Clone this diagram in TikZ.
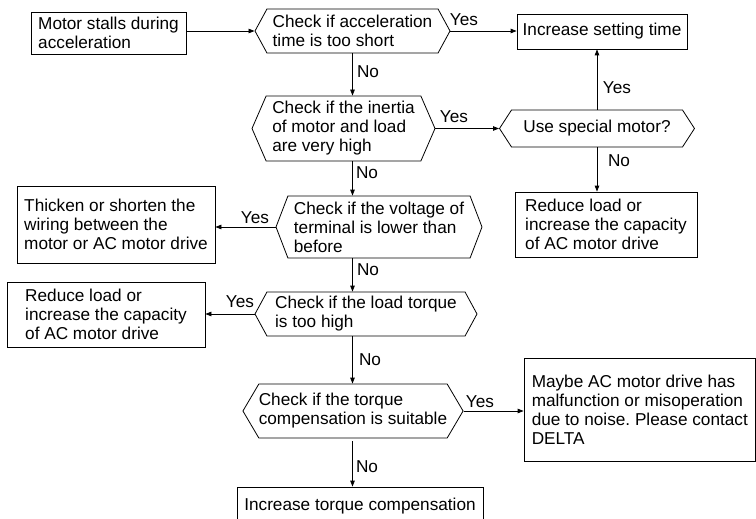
\documentclass[tikz,border=0pt]{standalone}
\usepackage{fontspec}
\setmainfont{Liberation Sans}
\usetikzlibrary{shapes.symbols,arrows.meta}
\newcommand\flowfont{\fontsize{17.2}{19}\selectfont\frenchspacing}

\begin{document}
\begin{tikzpicture}[x=1pt, y=-1pt, line width=.8pt, >={Triangle[length=6pt,width=4.5pt]},
  every node/.style={font=\flowfont, inner sep=0pt},
  box/.style={draw, align=left},
  hex/.style={draw, align=left, signal, signal to=west and east}]
  \useasboundingbox (0,0) rectangle (756,519);
  % boxes
  \node[box, minimum width=155, minimum height=42] (start) at (108.5,33) {Motor stalls during\\acceleration};
  \node[box, minimum width=170, minimum height=35] (setT) at (602,31.5) {Increase setting time};
  \node[box, minimum width=182, minimum height=65] (redR) at (606,224.5) {Reduce load or\\increase the capacity\\of AC motor drive};
  \node[box, minimum width=198, minimum height=77] (thick) at (116,224.5) {Thicken or shorten the\\wiring between the\\motor or AC motor drive};
  \node[box, minimum width=198, minimum height=65] (redL) at (106,314.5) {Reduce load or\\increase the capacity\\of AC motor drive};
  \node[box, minimum width=231.6, minimum height=103] (maybe) at (639.8,409.5) {Maybe AC motor drive has\\malfunction or misoperation\\due to noise. Please contact\\DELTA};
  \node[box, minimum width=246, minimum height=38] (torq) at (360,506) {Increase torque compensation};
  % checks
  \node[hex, signal pointer angle=123, minimum width=195, minimum height=44] (h1) at (352.5,31) {Check if acceleration\\time is too short};
  \node[hex, signal pointer angle=133, minimum width=183, minimum height=65] (h2) at (343.5,128.5) {Check if the inertia\\of motor and load\\are very high};
  \node[hex, signal pointer angle=114, minimum width=195, minimum height=37] (h3) at (597,128.5) {Use special motor?};
  \node[hex, signal pointer angle=138, minimum width=206, minimum height=62] (h4) at (379,227) {Check if the voltage of\\terminal is lower than\\before};
  \node[hex, signal pointer angle=123, minimum width=222, minimum height=44] (h5) at (366,314) {Check if the load torque\\is too high};
  \node[hex, signal pointer angle=119, minimum width=220, minimum height=54] (h6) at (353,411) {Check if the torque\\compensation is suitable};
  % connectors
  \draw[->] (start.east |- h1.west) -- (h1.west);
  \draw[->] (h1.east) -- (h1.east -| setT.west);
  \draw[->] (h1.south) -- (h1.south |- h2.north);
  \draw[->] (h2.east) -- (h2.east -| h3.west);
  \draw[->] (h3.north) -- (h3.north |- setT.south);
  \draw[->] (h3.south) -- (h3.south |- redR.north);
  \draw[->] (h1.south |- h2.south) -- (h1.south |- h4.north);
  \draw[->] (h4.west) -- (h4.west -| thick.east);
  \draw[->] (h1.south |- h4.south) -- (h1.south |- h5.north);
  \draw[->] (h5.west) -- (h5.west -| redL.east);
  \draw[->] (h1.south |- h5.south) -- (h1.south |- h6.north);
  \draw[->] (h6.east) -- (h6.east -| maybe.west);
  \draw[->, shorten <=3pt] (h1.south |- h6.south) -- (h1.south |- torq.north);
  % answers
  \foreach \x/\y/\t [count=\i] in {464/20/Yes, 368/72/No, 454/117/Yes, 617/88/Yes, 619/161/No,
      367/173/No, 255/218/Yes, 368/270/No, 240/302/Yes, 370/360/No, 480/402/Yes, 367/467/No}
    \node (ans\i) at (\x,\y) {\t};
\end{tikzpicture}
\end{document}
